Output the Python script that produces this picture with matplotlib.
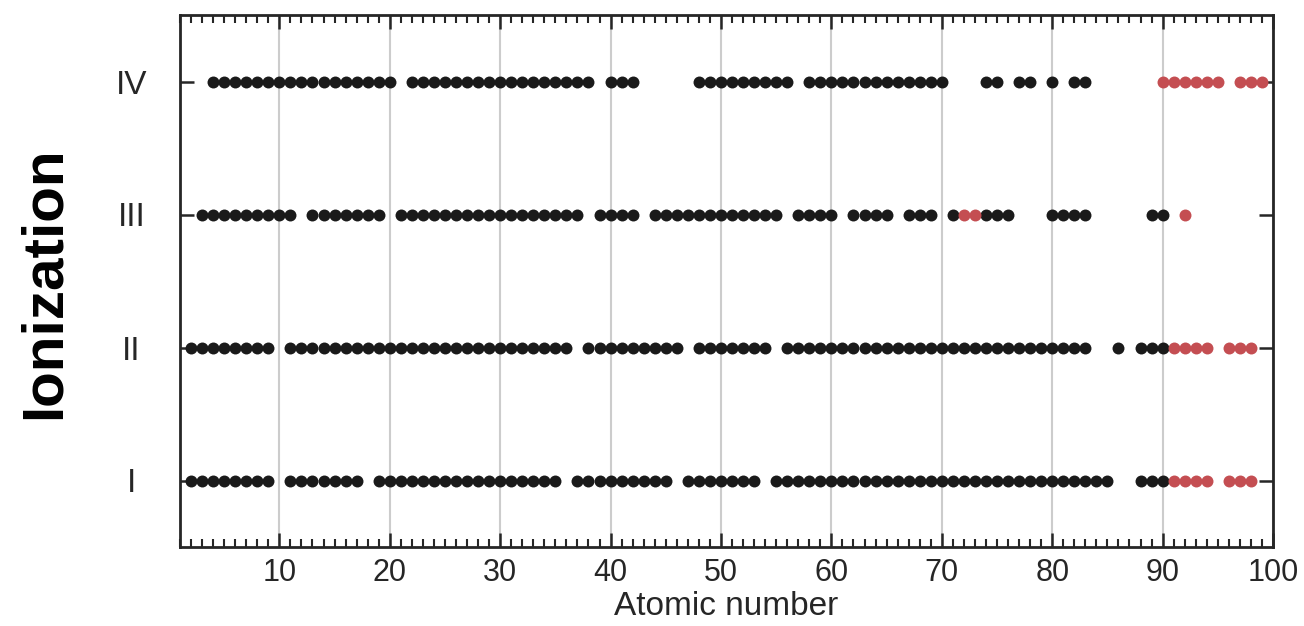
import matplotlib
matplotlib.use("Agg")
import matplotlib.pyplot as plt
from matplotlib.ticker import MultipleLocator

levels = ["I", "II", "III", "IV"]

# atomic numbers per ionization stage (black = known, red = highlighted)
black_I = [2, 3, 4, 5, 6, 7, 8, 9, 11, 12, 13, 14, 15, 16, 17,
           19, 20, 21, 22, 23, 24, 25, 26, 27, 28, 29, 30, 31, 32, 33, 34, 35,
           37, 38, 39, 40, 41, 42, 43, 44, 45, 47, 48, 49, 50, 51, 52, 53,
           55, 56, 57, 58, 59, 60, 61, 62, 63, 64, 65, 66, 67, 68, 69, 70,
           71, 72, 73, 74, 75, 76, 77, 78, 79, 80, 81, 82, 83, 84, 85, 88, 89, 90]
red_I = [91, 92, 93, 94, 96, 97, 98]

black_II = [2, 3, 4, 5, 6, 7, 8, 9, 11, 12, 13, 14, 15, 16, 17, 18, 19, 20,
            21, 22, 23, 24, 25, 26, 27, 28, 29, 30, 31, 32, 33, 34, 35, 36,
            38, 39, 40, 41, 42, 43, 44, 45, 46, 48, 49, 50, 51, 52, 53, 54,
            56, 57, 58, 59, 60, 61, 62, 63, 64, 65, 66, 67, 68, 69, 70, 71, 72,
            73, 74, 75, 76, 77, 78, 79, 80, 81, 82, 83, 86, 88, 89, 90]
red_II = [91, 92, 93, 94, 96, 97, 98]

black_III = [3, 4, 5, 6, 7, 8, 9, 10, 11, 13, 14, 15, 16, 17, 18, 19,
             21, 22, 23, 24, 25, 26, 27, 28, 29, 30, 31, 32, 33, 34, 35, 36, 37,
             39, 40, 41, 42, 44, 45, 46, 47, 48, 49, 50, 51, 52, 53, 54, 55,
             57, 58, 59, 60, 62, 63, 64, 65, 67, 68, 69, 71, 74, 75, 76,
             80, 81, 82, 83, 89, 90]
red_III = [72, 73, 92]

black_IV = [4, 5, 6, 7, 8, 9, 10, 11, 12, 13, 14, 15, 16, 17, 18, 19, 20,
            22, 23, 24, 25, 26, 27, 28, 29, 30, 31, 32, 33, 34, 35, 36, 37, 38,
            40, 41, 42, 48, 49, 50, 51, 52, 53, 54, 55, 56,
            58, 59, 60, 61, 62, 63, 64, 65, 66, 67, 68, 69, 70,
            74, 75, 77, 78, 80, 82, 83]
red_IV = [90, 91, 92, 93, 94, 95, 97, 98, 99]

blacks = [black_I, black_II, black_III, black_IV]
reds = [red_I, red_II, red_III, red_IV]

BLACK = "#1a1a1a"
RED = "#c44e52"
TXT = "#262626"

plt.rcParams["font.family"] = ["Liberation Sans", "DejaVu Sans"]

fig = plt.figure(figsize=(13.04, 6.26), dpi=100)
ax = fig.add_axes([180 / 1304, 1 - 547 / 626, (1273 - 180) / 1304, (547 - 15) / 626])

for i, (b, r) in enumerate(zip(blacks, reds)):
    y = i + 1
    ax.scatter(b, [y] * len(b), s=74, color=BLACK, linewidths=0, zorder=3)
    ax.scatter(r, [y] * len(r), s=74, color=RED, linewidths=0, zorder=3)

ax.set_xlim(1, 100)
ax.set_ylim(0.5, 4.5)
ax.set_yticks([1, 2, 3, 4])
ax.set_yticklabels(levels)
ax.xaxis.set_major_locator(MultipleLocator(10))
ax.xaxis.set_minor_locator(MultipleLocator(1))
ax.grid(axis="x", which="major", color="#cccccc", linewidth=1.5, zorder=0)
ax.set_axisbelow(True)

ax.tick_params(axis="x", which="major", direction="in", top=True, bottom=True,
               length=10, width=1.8, color=TXT, labelsize=22, labelcolor=TXT, pad=8)
ax.tick_params(axis="x", which="minor", direction="in", top=True, bottom=True,
               length=5.5, width=1.5, color=TXT)
ax.tick_params(axis="y", which="major", direction="in", left=True, right=True,
               length=10, width=1.8, color=TXT, labelsize=24, labelcolor=TXT, pad=35)
for lab in ax.get_yticklabels():
    lab.set_horizontalalignment("center")

for sp in ax.spines.values():
    sp.set_linewidth(2)
    sp.set_color(TXT)

ax.set_xlabel("Atomic number", fontsize=24, color=TXT, labelpad=2)
fig.text(45 / 1304, 1 - 283 / 626, "Ionization", rotation=90, fontsize=42,
         fontweight="bold", color="black", ha="center", va="center")

fig.savefig("out.png", dpi=100)
